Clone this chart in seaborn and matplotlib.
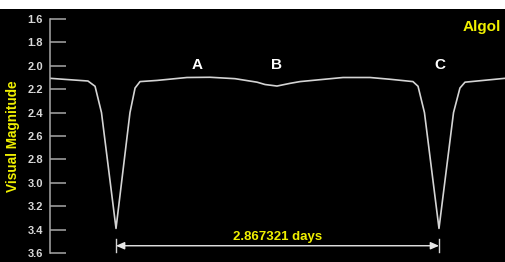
import matplotlib
matplotlib.use("Agg")
import matplotlib.pyplot as plt
from matplotlib.patches import Rectangle
import seaborn as sns
import pandas as pd

# ---- data ----
phase_days = [-0.586, -0.249, -0.186, -0.129, 0.0, 0.124, 0.169, 0.213, 0.364, 0.630,
              0.834, 1.056, 1.252, 1.323, 1.429, 1.545, 1.633, 1.873, 2.015, 2.255,
              2.432, 2.636, 2.681, 2.738, 2.867, 2.996, 3.053, 3.098, 3.453]
magnitude = [2.107, 2.13, 2.175, 2.40, 3.39, 2.40, 2.19, 2.135, 2.125, 2.10,
             2.098, 2.11, 2.14, 2.16, 2.173, 2.15, 2.135, 2.113, 2.10, 2.10,
             2.115, 2.135, 2.175, 2.40, 3.39, 2.40, 2.19, 2.14, 2.107]
y_ticks = [1.6, 1.8, 2.0, 2.2, 2.4, 2.6, 2.8, 3.0, 3.2, 3.4, 3.6]
period_days = 2.867321
minima = [0.0, 2.867321]
point_labels = ["A", "B", "C"]
point_label_x = [0.716, 1.429, 2.876]

df = pd.DataFrame({"phase": phase_days, "mag": magnitude})

W, H = 505, 262
fig = plt.figure(figsize=(W / 100, H / 100), dpi=100)
fig.patch.set_facecolor("black")
fig.add_artist(Rectangle((0, 1 - 9 / H), 1, 9 / H, transform=fig.transFigure,
                         facecolor="white", edgecolor="none", zorder=-1))

ax = fig.add_axes([50 / W, 1 - 253 / H, 455 / W, 234 / H])
ax.set_facecolor("black")

sns.lineplot(data=df, x="phase", y="mag", ax=ax, color="#d4d4d4", lw=1.2,
             estimator=None, sort=False)

ax.set_xlim(-0.586, 3.453)
ax.set_ylim(3.6, 1.6)
ax.set_yticks(y_ticks)
ax.set_yticklabels([f"{v:.1f}" for v in y_ticks])
ax.set_xticks([])
ax.set_xlabel("")
ax.set_ylabel("")
for s in ["top", "right", "bottom"]:
    ax.spines[s].set_visible(False)
ax.spines["left"].set_color("#a8a8a8")
ax.spines["left"].set_linewidth(1.1)
ax.tick_params(axis="y", direction="in", length=11.5, width=1.1, color="#a8a8a8",
               pad=5, labelcolor="#d8d8d8", labelsize=8)
for t in ax.get_yticklabels():
    t.set_fontweight("bold")
    t.set_fontfamily("Liberation Sans")

yellow = "#f0f000"
fig.text(13.5 / W, 1 - 136 / H, "Visual Magnitude", rotation=90, color=yellow,
         fontsize=9.8, fontweight="bold", family="Liberation Sans",
         ha="center", va="center")

for lab, xv in zip(point_labels, point_label_x):
    ax.text(xv, 1.993, lab, color="white", fontsize=11, fontweight="bold",
            family="Liberation Sans", ha="center", va="center")

ax.text(3.249, 1.668, "Algol", color=yellow, fontsize=11, fontweight="bold",
        family="Liberation Sans", ha="center", va="center", clip_on=False)

# period dimension
for m in minima:
    ax.plot([m, m], [3.48, 3.59], color="#d4d4d4", lw=1.0, clip_on=False)
ax.annotate("", xy=(minima[0], 3.538), xytext=(minima[1], 3.538),
            arrowprops=dict(arrowstyle="<|-|>,head_length=0.5,head_width=0.22",
                            color="#e8e8e8", lw=1.0, shrinkA=0, shrinkB=0))
ax.text((minima[0] + minima[1]) / 2, 3.463, f"{period_days} days", color=yellow,
        fontsize=9.5, fontweight="bold", family="Liberation Sans",
        ha="center", va="center")

fig.savefig("out.png", dpi=100, facecolor=fig.get_facecolor())
